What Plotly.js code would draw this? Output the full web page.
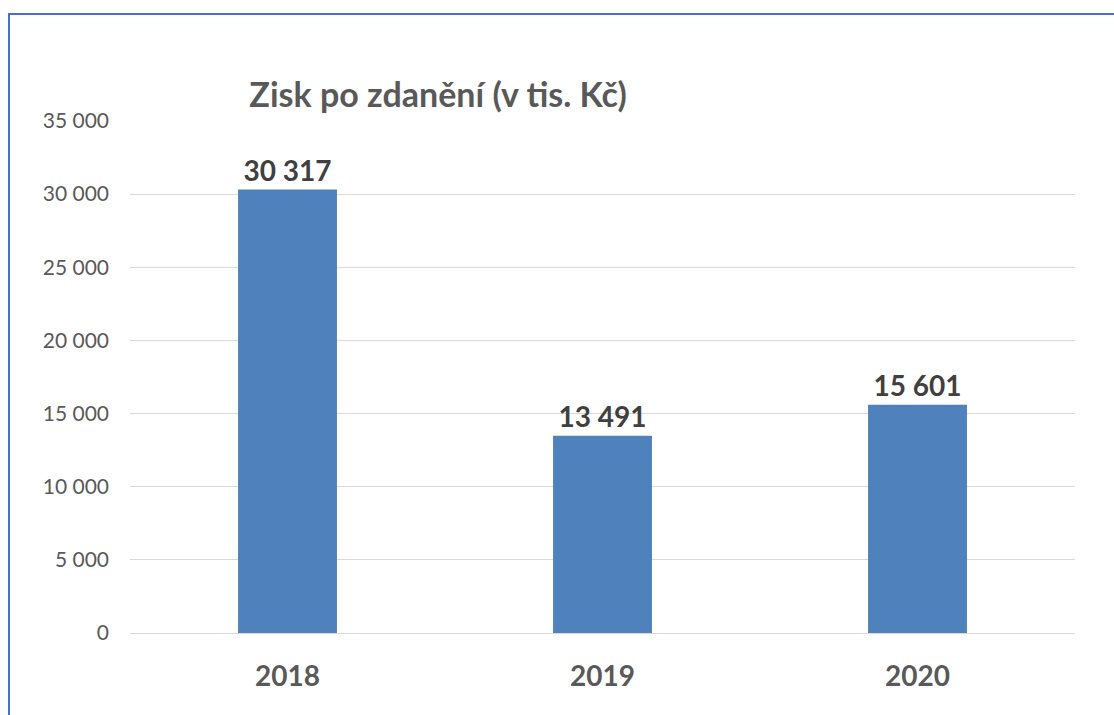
<!DOCTYPE html>
<html><head><meta charset="utf-8">
<script src="https://cdn.plot.ly/plotly-3.0.1.min.js"></script>
<style>
html,body{margin:0;padding:0;background:#fff;}
#wrap{position:relative;width:1114px;height:715px;}
#chart{width:1114px;height:715px;}
#frame{position:absolute;left:8px;top:13px;width:1120px;height:720px;border-left:2px solid #4472C4;border-top:2px solid #4472C4;pointer-events:none;}
</style></head>
<body>
<div id="wrap"><div id="chart"></div><div id="frame"></div></div>
<script>
const years = ['2018', '2019', '2020'];
const profit = [30317, 13491, 15601];
const yTicks = [0, 5000, 10000, 15000, 20000, 25000, 30000, 35000];
const chartTitle = 'Zisk po zdanění (v tis. Kč)';

const FONT = 'Lato, "Open Sans", sans-serif';
Plotly.newPlot('chart', [{
  type: 'bar', x: years, y: profit,
  marker: {color: '#4F81BD'},
  width: 0.314,
  texttemplate: '%{y:,d}', textposition: 'outside', cliponaxis: false,
  textfont: {family: FONT, size: 28, color: '#404040', weight: 'bold'},
  hoverinfo: 'none'
}], {
  width: 1114, height: 715,
  margin: {l: 130, r: 39, t: 121, b: 82},
  separators: ', ',
  paper_bgcolor: '#fff', plot_bgcolor: '#fff',
  showlegend: false,
  title: {text: chartTitle, font: {family: FONT, size: 34, color: '#595959', weight: 'bold'},
          xref: 'paper', x: 0.326, xanchor: 'center', yref: 'container', y: 1 - 95/715, yanchor: 'middle'},
  xaxis: {type: 'category', showgrid: false, showline: false, zeroline: false, ticks: '',
          tickfont: {family: FONT, size: 28, color: '#595959', weight: 'bold'}, ticklabelstandoff: 24},
  yaxis: {range: [0, 35000], tickvals: yTicks, tickformat: ',d', showgrid: true, gridcolor: '#D9D9D9', gridwidth: 1,
          zeroline: true, zerolinecolor: '#D9D9D9', zerolinewidth: 1, showline: false, ticks: '',
          tickfont: {family: FONT, size: 21, color: '#595959'}, ticklabelstandoff: 20}
}, {displayModeBar: false, staticPlot: true});
</script>
</body></html>
